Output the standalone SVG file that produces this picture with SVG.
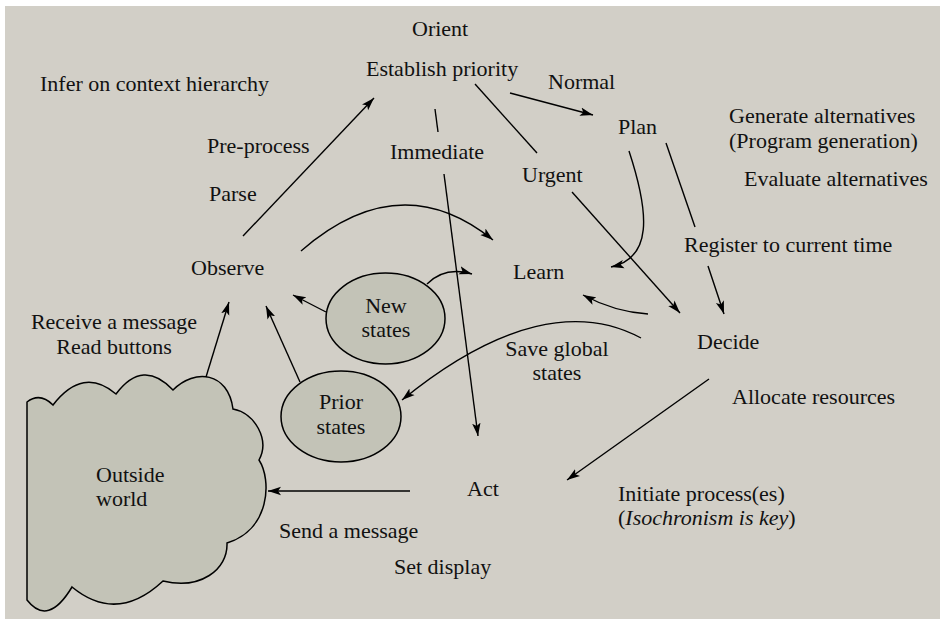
<svg xmlns="http://www.w3.org/2000/svg" width="940" height="619" viewBox="0 0 940 619">
<defs>
<marker id="ah" markerUnits="userSpaceOnUse" markerWidth="14" markerHeight="10" refX="13" refY="5" orient="auto">
<path d="M0,0.8 L13,5 L0,9.2 L3,5 Z" fill="#000"/>
</marker>
</defs>
<style>
text{font-family:"Liberation Serif","Times New Roman",serif;font-size:22px;fill:#111}
.c{text-anchor:middle}
.ln{fill:none;stroke:#000;stroke-width:1.4}
.ar{marker-end:url(#ah)}
.shape{fill:#c3c3b7;stroke:#000;stroke-width:1.5}
</style>
<rect x="5" y="6" width="935" height="613" fill="#d2cfc7"/>

<g id="outside-world">
<path class="shape" d="M27,402 Q40,392 53,405 Q83,366 116,394 Q143,358 173,390 C195,368 228,372 233,409 C255,413 270,440 259,460 C272,480 270,530 227,543 C228,570 200,590 163,581 Q117,624 72,587 Q48,627 27,600 Z"/>
<text x="96" y="482">Outside</text>
<text x="96" y="506">world</text>
</g>
<g id="new-states">
<ellipse class="shape" cx="385.5" cy="318.5" rx="59.5" ry="45.5"/>
<text class="c" x="386" y="313">New</text>
<text class="c" x="386" y="337">states</text>
</g>
<g id="prior-states">
<ellipse class="shape" cx="341" cy="416.5" rx="60" ry="45.5"/>
<text class="c" x="341" y="409">Prior</text>
<text class="c" x="341" y="434">states</text>
</g>

<g id="orient"><text x="412" y="36">Orient</text></g>
<g id="establish-priority"><text x="366" y="76">Establish priority</text></g>
<g id="infer"><text x="40" y="91">Infer on context hierarchy</text></g>
<g id="normal"><text x="548" y="89">Normal</text></g>
<g id="plan"><text x="618" y="134">Plan</text></g>
<g id="generate"><text x="729" y="123">Generate alternatives</text><text x="729" y="148">(Program generation)</text></g>
<g id="evaluate"><text x="744" y="186">Evaluate alternatives</text></g>
<g id="preprocess"><text x="207" y="153">Pre-process</text></g>
<g id="immediate"><text x="390" y="159">Immediate</text></g>
<g id="urgent"><text x="522" y="182">Urgent</text></g>
<g id="parse"><text x="209" y="201">Parse</text></g>
<g id="register"><text x="684" y="252">Register to current time</text></g>
<g id="observe"><text x="191" y="275">Observe</text></g>
<g id="learn"><text x="513" y="279">Learn</text></g>
<g id="receive"><text class="c" x="114" y="329">Receive a message</text><text class="c" x="114" y="354">Read buttons</text></g>
<g id="decide"><text x="697" y="349">Decide</text></g>
<g id="save"><text class="c" x="557" y="356">Save global</text><text class="c" x="557" y="380">states</text></g>
<g id="allocate"><text x="732" y="404">Allocate resources</text></g>
<g id="act"><text x="467" y="496">Act</text></g>
<g id="initiate"><text x="618" y="501">Initiate process(es)</text><text x="618" y="525">(<tspan font-style="italic">Isochronism is key</tspan>)</text></g>
<g id="send"><text x="279" y="538">Send a message</text></g>
<g id="set-display"><text x="394" y="574">Set display</text></g>

<g id="connectors">
<line class="ln ar" x1="243" y1="236" x2="374" y2="98"/>
<line class="ln" x1="435" y1="109" x2="438" y2="132"/>
<line class="ln ar" x1="444" y1="174" x2="478" y2="436"/>
<line class="ln" x1="475" y1="84" x2="537" y2="153"/>
<line class="ln ar" x1="510" y1="93" x2="593" y2="115"/>
<line class="ln ar" x1="572" y1="192" x2="680" y2="313"/>
<path class="ln ar" d="M629,151 C650,215 652,258 611,267"/>
<line class="ln" x1="666" y1="143" x2="695" y2="227"/>
<line class="ln ar" x1="708" y1="266" x2="724" y2="314"/>
<path class="ln ar" d="M648,314 Q615,312 583,295"/>
<path class="ln ar" d="M641,338 C580,305 500,320 402,400"/>
<path class="ln ar" d="M301,251 Q400,165 493,240"/>
<path class="ln ar" d="M427,284 Q445,266 472,274"/>
<line class="ln ar" x1="326" y1="312" x2="293" y2="295"/>
<line class="ln ar" x1="300" y1="382" x2="266" y2="306"/>
<line class="ln ar" x1="206" y1="377" x2="229" y2="302"/>
<line class="ln ar" x1="410" y1="491" x2="268" y2="491"/>
<line class="ln ar" x1="709" y1="379" x2="567" y2="480"/>
</g>
</svg>
